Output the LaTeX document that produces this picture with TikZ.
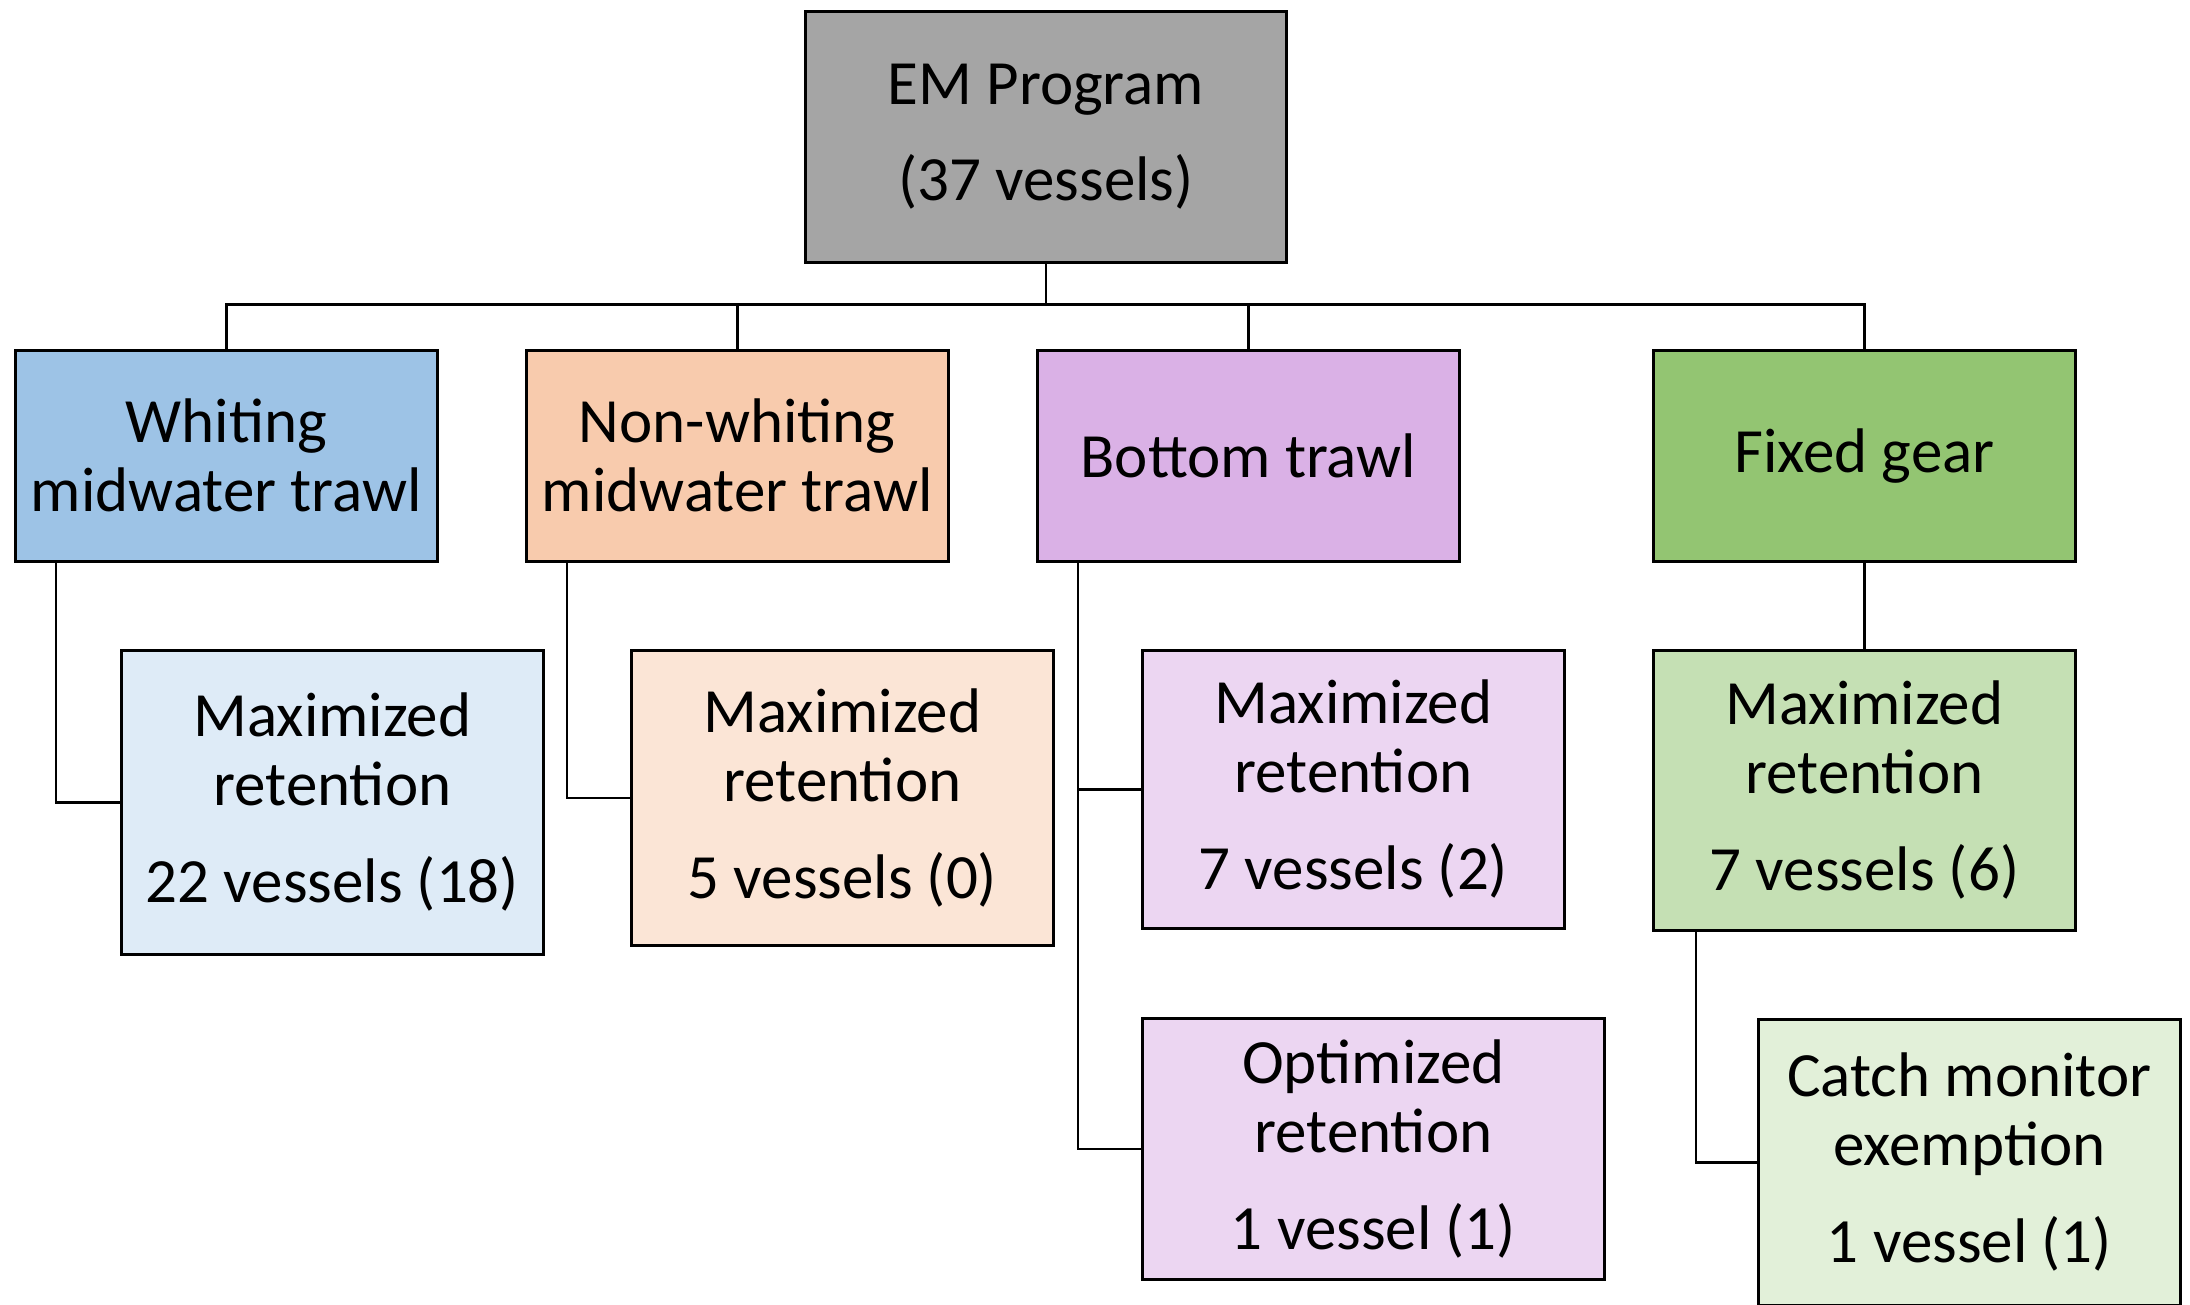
\documentclass[tikz,border=0pt]{standalone}
\usepackage{fontspec}
\setmainfont{Carlito}
\definecolor{emgray}{HTML}{A5A5A5}
\definecolor{whdark}{HTML}{9DC3E6}
\definecolor{whlight}{HTML}{DEEBF7}
\definecolor{nwdark}{HTML}{F8CBAD}
\definecolor{nwlight}{HTML}{FBE5D6}
\definecolor{btdark}{HTML}{DAB1E6}
\definecolor{btlight}{HTML}{ECD6F2}
\definecolor{fgdark}{HTML}{93C572}
\definecolor{fgmid}{HTML}{C5E0B4}
\definecolor{fglight}{HTML}{E2F0D9}
\begin{document}
\begin{tikzpicture}[x=1pt,y=-1pt,
  box/.style={draw=black, line width=2.7pt, rectangle, anchor=north west, inner sep=0pt,
    align=center, text=black, font=\fontsize{63}{69}\selectfont},
  conn/.style={draw=black, line width=2.7pt}]
\useasboundingbox (0,0) rectangle (2190,1305);
\node[box, fill=emgray, minimum width=481pt, minimum height=251pt] (em) at (804,10) {EM Program\\[27pt](37 vessels)};
\node[box, fill=whdark, minimum width=422pt, minimum height=211pt] (wh) at (14,349) {Whiting\\midwater trawl};
\node[box, fill=nwdark, minimum width=422pt, minimum height=211pt] (nw) at (525,349) {Non-whiting\\midwater trawl};
\node[box, fill=btdark, minimum width=422pt, minimum height=211pt] (bt) at (1036,349) {Bottom trawl};
\node[box, fill=fgdark, minimum width=422pt, minimum height=211pt] (fg) at (1652,349) {Fixed gear};
\node[box, fill=whlight, minimum width=422pt, minimum height=304pt] (whm) at (120,649) {Maximized\\retention\\[28pt]22 vessels (18)};
\node[box, fill=nwlight, minimum width=422pt, minimum height=295pt] (nwm) at (630,649) {Maximized\\retention\\[28pt]5 vessels (0)};
\node[box, fill=btlight, minimum width=422pt, minimum height=278pt] (btm) at (1141,649) {Maximized\\retention\\[28pt]7 vessels (2)};
\node[box, fill=btlight, minimum width=462pt, minimum height=261pt] (opt) at (1141,1017) {Optimized\\retention\\[28pt]1 vessel (1)};
\node[box, fill=fgmid, minimum width=422pt, minimum height=280pt] (fgm) at (1652,649) {Maximized\\retention\\[28pt]7 vessels (6)};
\node[box, fill=fglight, minimum width=422pt, minimum height=286pt] (cme) at (1757,1018) {Catch monitor\\exemption\\[28pt]1 vessel (1)};
\coordinate (bus) at (0,304.5);
\draw[conn] (wh.north) -- (wh.north |- bus) -| (em.south);
\draw[conn] (nw.north) -- (nw.north |- bus) -| (em.south);
\draw[conn] (bt.north) -- (bt.north |- bus) -| (em.south);
\draw[conn] (fg.north) -- (fg.north |- bus) -| (em.south);
\draw[conn] ([xshift=42pt]wh.south west) |- (whm.west);
\draw[conn] ([xshift=42pt]nw.south west) |- (nwm.west);
\draw[conn] ([xshift=42pt]bt.south west) |- (btm.west);
\draw[conn] ([xshift=42pt]bt.south west) |- (opt.west);
\draw[conn] (fg.south) -- (fgm.north);
\draw[conn] ([xshift=44pt]fgm.south west) |- (cme.west);
\end{tikzpicture}
\end{document}
